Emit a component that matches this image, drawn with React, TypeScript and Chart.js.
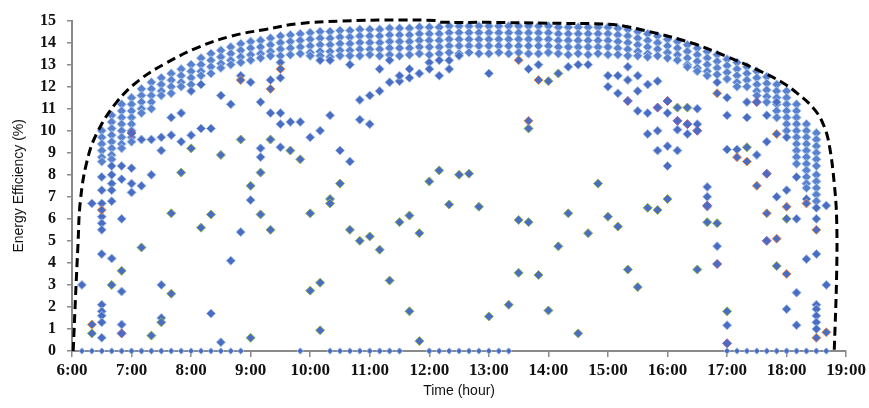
import { useEffect, useRef } from "react";
import { Chart, registerables } from "chart.js";

Chart.register(...registerables);

// ---- axis ticks ----
const xTickLabels = ["6:00", "7:00", "8:00", "9:00", "10:00", "11:00", "12:00", "13:00", "14:00", "15:00", "16:00", "17:00", "18:00", "19:00"];
const yTickValues = [0, 1, 2, 3, 4, 5, 6, 7, 8, 9, 10, 11, 12, 13, 14, 15];

// ---- dense band of measurements (time column -> efficiencies) ----
const bandTimes = [
  "6:30", "6:40", "6:50", "7:00", "7:10", "7:20", "7:30", "7:40", "7:50", "8:00",
  "8:10", "8:20", "8:30", "8:40", "8:50", "9:00", "9:10", "9:20", "9:30", "9:40",
  "9:50", "10:00", "10:10", "10:20", "10:30", "10:40", "10:50", "11:00", "11:10", "11:20",
  "11:30", "11:40", "11:50", "12:00", "12:10", "12:20", "12:30", "12:40", "12:50", "13:00",
  "13:10", "13:20", "13:30", "13:40", "13:50", "14:00", "14:10", "14:20", "14:30", "14:40",
  "14:50", "15:00", "15:10", "15:20", "15:30", "15:40", "15:50", "16:00", "16:10", "16:20",
  "16:30", "16:40", "16:50", "17:00", "17:10", "17:20", "17:30", "17:40", "17:50", "18:00",
  "18:10", "18:20", "18:30",
];
const bandValues: number[][] = [
  [10.0, 9.7, 9.4, 9.1, 8.8, 8.6],
  [10.7, 10.4, 10.1, 9.8, 9.5, 9.2, 8.9, 8.7],
  [11.2, 10.9, 10.6, 10.3, 10.0, 9.7, 9.4, 9.2],
  [11.5, 11.2, 10.9, 10.6, 10.3, 10.0, 9.7, 9.5],
  [11.9, 11.6, 11.3, 11.0, 10.8],
  [12.2, 11.9, 11.6, 11.3, 11.0],
  [12.4, 12.1, 11.8, 11.6],
  [12.6, 12.3, 12.0, 11.7],
  [12.8, 12.5, 12.2, 12.0],
  [13.0, 12.7, 12.4, 12.1],
  [13.3, 13.0, 12.7, 12.5],
  [13.5, 13.2, 12.9, 12.6],
  [13.65, 13.35, 13.05, 12.85],
  [13.8, 13.5, 13.2, 13.0],
  [13.95, 13.65, 13.35, 13.1],
  [14.05, 13.75, 13.45, 13.2],
  [14.1, 13.8, 13.5, 13.3],
  [14.2, 13.9, 13.6, 13.4],
  [14.3, 14.0, 13.7, 13.4],
  [14.35, 14.05, 13.75, 13.45],
  [14.4, 14.1, 13.8, 13.5],
  [14.45, 14.15, 13.85, 13.55, 13.4],
  [14.5, 14.2, 13.9, 13.6, 13.4],
  [14.5, 14.2, 13.9, 13.6, 13.35],
  [14.55, 14.25, 13.95, 13.65, 13.4],
  [14.55, 14.25, 13.95, 13.65, 13.4],
  [14.6, 14.3, 14.0, 13.7, 13.4],
  [14.6, 14.3, 14.0, 13.7, 13.45],
  [14.6, 14.3, 14.0, 13.7, 13.4],
  [14.65, 14.35, 14.05, 13.75, 13.45],
  [14.65, 14.35, 14.05, 13.75, 13.4],
  [14.65, 14.35, 14.05, 13.75, 13.45],
  [14.7, 14.4, 14.1, 13.8, 13.5],
  [14.7, 14.4, 14.1, 13.8, 13.45],
  [14.7, 14.4, 14.1, 13.8, 13.5],
  [14.75, 14.45, 14.15, 13.85, 13.55],
  [14.75, 14.45, 14.15, 13.85, 13.5],
  [14.75, 14.45, 14.15, 13.85, 13.55],
  [14.75, 14.45, 14.15, 13.85, 13.5],
  [14.75, 14.45, 14.15, 13.85, 13.5],
  [14.75, 14.45, 14.15, 13.85, 13.55],
  [14.75, 14.45, 14.15, 13.85, 13.5],
  [14.75, 14.45, 14.15, 13.85, 13.55],
  [14.75, 14.45, 14.15, 13.85, 13.5],
  [14.75, 14.45, 14.15, 13.85, 13.5],
  [14.75, 14.45, 14.15, 13.85, 13.55],
  [14.7, 14.4, 14.1, 13.8, 13.5],
  [14.7, 14.4, 14.1, 13.8, 13.45],
  [14.7, 14.4, 14.1, 13.8, 13.5],
  [14.7, 14.4, 14.1, 13.8, 13.45],
  [14.7, 14.4, 14.1, 13.8, 13.5],
  [14.7, 14.4, 14.1, 13.8, 13.45],
  [14.65, 14.35, 14.05, 13.75, 13.45],
  [14.6, 14.3, 14.0, 13.7, 13.4],
  [14.5, 14.2, 13.9, 13.6, 13.4],
  [14.4, 14.1, 13.8, 13.5, 13.35],
  [14.3, 14.0, 13.7, 13.4],
  [14.15, 13.85, 13.55, 13.3],
  [14.05, 13.75, 13.45, 13.2],
  [13.9, 13.6, 13.3, 13.0, 12.9],
  [13.75, 13.45, 13.15, 12.85, 12.7],
  [13.6, 13.3, 13.0, 12.7, 12.5],
  [13.45, 13.15, 12.85, 12.55],
  [13.25, 12.95, 12.65, 12.35],
  [13.1, 12.8, 12.5, 12.2, 12.0],
  [12.9, 12.6, 12.3, 12.0],
  [12.7, 12.4, 12.1, 11.8, 11.6],
  [12.45, 12.15, 11.85, 11.55, 11.3],
  [12.1, 11.8, 11.5, 11.2, 10.9, 10.6],
  [11.8, 11.5, 11.2, 10.9, 10.6, 10.3, 10.0],
  [11.2, 10.9, 10.6, 10.3, 10.0, 9.7, 9.4, 9.1, 8.8, 8.5],
  [10.3, 10.0, 9.7, 9.4, 9.1, 8.8, 8.5, 8.2, 7.9, 7.6, 7.4],
  [9.9, 9.6, 9.3, 9.0, 8.7, 8.4, 8.0, 7.7, 7.4, 7.1, 6.8],
];

// ---- scattered measurements ----
const bluePoints: [string, number][] = [
  ["6:10", 3.0], ["6:20", 6.7], ["6:30", 6.7], ["6:30", 6.1], ["6:30", 5.8], ["6:30", 5.5], ["6:30", 4.4],
  ["6:30", 2.1], ["6:30", 1.8], ["6:30", 1.6], ["6:30", 1.3], ["6:30", 0.6], ["6:30", 7.9], ["6:30", 7.3],
  ["6:40", 8.4], ["6:40", 8.0], ["6:40", 7.6], ["6:40", 7.3], ["6:40", 6.8], ["6:40", 4.2],
  ["6:50", 8.4], ["6:50", 6.0], ["6:50", 2.7], ["6:50", 1.2], ["6:50", 7.8],
  ["7:00", 8.3], ["7:00", 7.6], ["7:00", 7.2], ["7:10", 7.5], ["7:10", 9.6], ["7:20", 8.0], ["7:20", 9.6],
  ["7:30", 3.0], ["7:30", 1.5], ["7:30", 9.1], ["7:30", 9.7], ["7:40", 9.8], ["7:40", 10.6], ["7:50", 10.8],
  ["7:50", 9.5], ["8:00", 9.8], ["8:00", 11.8], ["8:10", 12.1], ["8:10", 10.1], ["8:20", 10.1], ["8:20", 1.7],
  ["8:30", 11.6], ["8:30", 0.4], ["8:40", 11.2], ["8:40", 4.1], ["8:50", 12.5], ["8:50", 5.4], ["9:00", 12.2],
  ["9:00", 6.85], ["9:10", 11.3], ["9:10", 9.2], ["9:10", 8.8], ["9:20", 12.3], ["9:20", 10.8], ["9:30", 13.1],
  ["9:30", 12.4], ["9:30", 10.8], ["9:30", 10.3], ["9:30", 9.25], ["9:40", 10.4], ["9:50", 10.4],
  ["10:00", 9.7], ["10:10", 10.0], ["10:20", 10.7], ["10:30", 9.1], ["10:40", 8.6], ["10:50", 11.4], ["10:50", 10.5],
  ["11:00", 11.6], ["11:00", 10.3], ["11:10", 11.8], ["11:20", 12.2], ["11:30", 12.25],
  ["10:10", 13.2], ["10:20", 13.2], ["10:40", 13.0], ["11:10", 12.8], ["11:20", 13.2], ["11:30", 12.5],
  ["11:40", 12.8], ["11:40", 12.4], ["11:50", 12.6], ["12:00", 13.1], ["12:00", 12.8], ["12:10", 13.2],
  ["12:10", 12.5], ["12:20", 13.2], ["12:20", 12.8], ["12:30", 13.4], ["13:00", 12.6], ["13:40", 12.8],
  ["13:50", 13.0], ["14:20", 12.9], ["14:30", 13.0], ["14:40", 13.0],
  ["15:00", 12.5], ["15:00", 12.0], ["15:10", 12.5], ["15:10", 11.7], ["15:20", 12.3], ["15:20", 12.9],
  ["15:30", 12.5], ["15:30", 11.8], ["15:30", 10.9], ["15:40", 12.1], ["15:40", 10.8], ["15:40", 9.85],
  ["15:50", 12.25], ["15:50", 10.0], ["15:50", 9.1], ["16:00", 9.3], ["16:00", 8.4], ["16:00", 10.8],
  ["16:10", 10.05], ["16:10", 9.1], ["16:20", 9.85], ["16:30", 11.0], ["16:30", 10.3], ["16:40", 7.45],
  ["16:40", 7.0], ["16:40", 6.55], ["16:50", 12.2], ["16:50", 4.76], ["17:00", 11.5], ["17:00", 10.7],
  ["17:00", 9.15], ["17:00", 1.17], ["17:10", 9.15], ["17:20", 11.3], ["17:20", 10.6], ["17:30", 8.9],
  ["17:40", 10.7], ["17:40", 9.5], ["17:50", 11.3], ["17:50", 7.0], ["18:00", 9.7], ["18:00", 7.3],
  ["18:00", 1.9], ["18:10", 7.9], ["18:10", 6.0], ["18:10", 2.65], ["18:10", 1.17], ["18:20", 4.17],
  ["18:20", 6.9], ["18:30", 6.0], ["18:30", 6.5], ["18:30", 4.4], ["18:30", 2.1], ["18:30", 1.9],
  ["18:30", 1.6], ["18:30", 1.3], ["18:30", 1.0], ["18:40", 6.6], ["18:40", 3.0],
];
const greenPoints: [string, number][] = [
  ["6:20", 0.8], ["6:40", 3.0], ["6:50", 3.64], ["7:10", 4.7], ["7:20", 0.7], ["7:30", 1.3], ["7:40", 2.6],
  ["7:40", 6.25], ["7:50", 8.1], ["8:00", 9.2], ["8:10", 5.6], ["8:20", 6.2], ["8:30", 8.9], ["8:50", 9.6],
  ["9:00", 7.5], ["9:00", 0.6], ["9:10", 6.2], ["9:10", 8.1], ["9:20", 5.5], ["9:20", 9.6], ["9:40", 9.1],
  ["9:50", 8.7], ["10:30", 7.6], ["10:20", 6.9], ["12:00", 7.7], ["12:10", 8.2], ["12:30", 8.0], ["12:40", 8.05],
  ["13:40", 10.1], ["14:00", 12.25], ["14:10", 12.6], ["14:50", 7.6],
  ["10:00", 6.25], ["10:20", 6.7], ["10:40", 5.5], ["10:50", 5.0], ["11:00", 5.2], ["11:10", 4.6], ["11:30", 5.85],
  ["11:40", 6.15], ["11:50", 5.35], ["12:20", 6.65], ["12:50", 6.55], ["13:30", 5.95], ["13:40", 5.85],
  ["14:10", 4.75], ["14:20", 6.25], ["14:40", 5.35], ["10:00", 2.74], ["10:10", 3.1], ["10:10", 0.94],
  ["11:20", 3.2], ["11:40", 1.8], ["11:50", 0.45], ["13:00", 1.57], ["13:20", 2.1], ["13:30", 3.55],
  ["13:50", 3.45], ["14:00", 1.84], ["14:30", 0.8],
  ["15:00", 6.1], ["15:10", 5.65], ["15:20", 3.7], ["15:30", 2.9], ["15:40", 6.5], ["15:50", 6.4], ["16:00", 6.9],
  ["16:30", 3.7], ["16:40", 5.85], ["16:50", 5.8], ["17:00", 1.8], ["17:20", 9.25], ["17:50", 3.86],
  ["18:00", 6.0], ["16:10", 11.05], ["16:20", 11.05],
];
const orangePoints: [string, number][] = [
  ["6:20", 1.2], ["6:30", 6.4], ["8:50", 12.3], ["9:20", 11.9], ["9:30", 12.8], ["13:30", 13.2], ["13:40", 10.45],
  ["13:50", 12.3], ["16:50", 11.7], ["17:10", 8.8], ["17:20", 8.6], ["17:30", 7.5], ["17:40", 6.25], ["17:50", 9.85],
  ["17:50", 5.1], ["18:00", 6.55], ["18:00", 3.5], ["18:20", 6.7], ["18:30", 0.6], ["18:40", 0.85], ["18:30", 5.5],
];
const purplePoints: [string, number][] = [
  ["6:50", 0.8], ["7:00", 9.9], ["15:20", 11.35], ["15:50", 11.05], ["16:00", 11.35], ["16:10", 10.45],
  ["16:20", 10.3], ["16:30", 10.0], ["16:40", 6.6], ["16:50", 3.95], ["17:00", 0.35], ["17:30", 11.3],
  ["17:40", 8.05], ["17:40", 5.0],
];
const zeroTimes = [
  "6:10", "6:20", "6:30", "6:40", "6:50", "7:00", "7:10", "7:20", "7:30", "7:40", "7:50", "8:00", "8:10",
  "8:20", "8:30", "8:40", "8:50", "9:50", "10:20", "10:30", "10:40", "10:50", "11:00", "11:10", "11:20",
  "11:30", "12:00", "12:10", "12:20", "12:30", "12:40", "12:50", "13:00", "13:10", "13:20", "17:00",
  "17:10", "17:20", "17:30", "17:40", "17:50", "18:00", "18:10", "18:20", "18:30", "18:40",
];

// ---- upper envelope (dashed) ----
const envelopeHours = [
  6.02, 6.06, 6.1, 6.14, 6.25, 6.42, 6.75, 7.13, 7.58, 8.13, 8.68, 9.25, 9.8, 10.5, 11.5, 12.1, 12.2,
  13.0, 14.0, 15.0, 15.3, 15.85, 16.42, 16.97, 17.52, 17.92, 18.18, 18.47, 18.63, 18.72, 18.8, 18.84, 18.84, 18.8,
];
const envelopeValues = [
  0, 2.5, 4.8, 6.8, 8.6, 9.9, 11.3, 12.3, 13.07, 13.8, 14.3, 14.6, 14.86, 14.98, 15.03, 15.0, 14.93,
  14.92, 14.88, 14.84, 14.73, 14.4, 13.97, 13.4, 12.75, 12.2, 11.7, 10.96, 10.2, 9.3, 7.6, 6.0, 3.5, 0,
];

const toHours = (s: string) => {
  const [h, m] = s.split(":").map(Number);
  return h + m / 60;
};

const BLUE = "#4A6CC3";

export default function App() {
  const canvasRef = useRef<HTMLCanvasElement | null>(null);

  useEffect(() => {
    document.body.style.margin = "0";
    const canvas = canvasRef.current;
    if (!canvas) return;

    const bandData: { x: number; y: number }[] = [];
    bandTimes.forEach((t, i) => {
      bandValues[i].forEach((v) => bandData.push({ x: toHours(t), y: v }));
    });
    const pts = (arr: [string, number][]) => arr.map(([t, v]) => ({ x: toHours(t), y: v }));

    const marker = (data: any[], border: string, radius = 4.5, fillColor = BLUE) => ({
      data,
      pointStyle: "rectRot" as const,
      pointRadius: radius,
      backgroundColor: fillColor,
      borderColor: border,
      borderWidth: 1,
      clip: false as any,
    });

    const chart = new Chart(canvas, {
      type: "scatter",
      data: {
        datasets: [
          {
            label: "envelope",
            data: envelopeHours.map((h, i) => ({ x: h, y: envelopeValues[i] })),
            showLine: true,
            borderColor: "#000",
            borderWidth: 3,
            borderDash: [9, 5],
            pointRadius: 0,
            tension: 0.4,
            fill: false,
            clip: false as any,
          },
          { label: "purple", ...marker(pts(purplePoints), "#9A5FA0") },
          { label: "orange", ...marker(pts(orangePoints), "#E8914E") },
          { label: "green", ...marker(pts(greenPoints), "#8DB552") },
          { label: "blue", ...marker(pts(bluePoints), "#9DBCE6") },
          { label: "band", ...marker(bandData, "#A9C9EE", 4.6, "#5A80CE") },
          { label: "zero", ...marker(zeroTimes.map((t) => ({ x: toHours(t), y: 0 })), "#9DBCE6", 3.2) },
        ],
      },
      options: {
        responsive: false,
        animation: false,
        events: [],
        layout: { padding: { top: 17, right: 17, left: 0, bottom: 0 } },
        plugins: { legend: { display: false }, tooltip: { enabled: false } },
        scales: {
          x: {
            type: "linear",
            min: 6,
            max: 19,
            afterFit: (scale: any) => {
              scale.height = 57;
            },
            afterBuildTicks: (scale: any) => {
              scale.ticks = xTickLabels.map((_, i) => ({ value: 6 + i }));
            },
            ticks: {
              autoSkip: false,
              maxRotation: 0,
              padding: 3,
              color: "#111",
              font: { family: "'Liberation Serif', serif", size: 17, weight: "bold" },
              callback: (v: any) => xTickLabels[Math.round(Number(v)) - 6],
            },
            grid: {
              drawOnChartArea: false,
              drawTicks: true,
              tickLength: 6,
              color: "#8a8a8a",
              lineWidth: 1.5,
            },
            border: { display: true, color: "#8a8a8a", width: 2 },
            title: {
              display: true,
              text: "Time (hour)",
              color: "#111",
              font: { family: "'Liberation Sans', Arial, sans-serif", size: 14 },
              padding: { top: 0, bottom: 8 },
            },
          },
          y: {
            type: "linear",
            min: 0,
            max: 15,
            afterFit: (scale: any) => {
              scale.width = 72;
            },
            afterBuildTicks: (scale: any) => {
              scale.ticks = yTickValues.map((v) => ({ value: v }));
            },
            ticks: {
              autoSkip: false,
              padding: 11,
              color: "#111",
              font: { family: "'Liberation Serif', serif", size: 16, weight: "bold" },
              callback: (v: any) => String(v),
            },
            grid: {
              drawOnChartArea: false,
              drawTicks: true,
              tickLength: 5,
              color: "#8a8a8a",
              lineWidth: 1.5,
            },
            border: { display: true, color: "#8a8a8a", width: 2 },
            title: {
              display: true,
              text: "Energy Efficiency (%)",
              color: "#111",
              font: { family: "'Liberation Sans', Arial, sans-serif", size: 14 },
              padding: { top: 11, bottom: 0 },
            },
          },
        },
      },
    });

    return () => chart.destroy();
  }, []);

  return (
    <div style={{ width: 869, height: 408 }}>
      <canvas ref={canvasRef} width={869} height={408} style={{ display: "block" }} />
    </div>
  );
}
